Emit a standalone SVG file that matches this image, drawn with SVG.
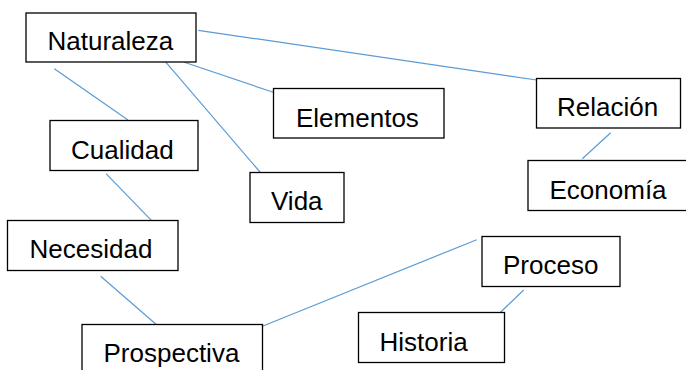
<svg xmlns="http://www.w3.org/2000/svg" width="686" height="370" viewBox="0 0 686 370">
<style>
.box{fill:#fff;stroke:#000;stroke-width:1.3}
.lbl{font-family:"Liberation Sans",Arial,sans-serif;font-size:26px;fill:#000}
.con{stroke:#5B9BD5;stroke-width:1.2;fill:none}
</style>
<rect width="686" height="370" fill="#fff"/>
<g id="connectors">
<line class="con" x1="198.3" y1="30.3" x2="536.7" y2="80"/>
<line class="con" x1="184.3" y1="62.3" x2="273.3" y2="92.3"/>
<line class="con" x1="164.3" y1="60.3" x2="261.7" y2="174"/>
<line class="con" x1="54.3" y1="68.7" x2="128" y2="120"/>
<line class="con" x1="106" y1="173.7" x2="153.3" y2="222.3"/>
<line class="con" x1="100.7" y1="276.3" x2="157.7" y2="325.7"/>
<line class="con" x1="263" y1="326" x2="476.7" y2="239.7"/>
<line class="con" x1="610.7" y1="132.7" x2="582.3" y2="158.7"/>
<line class="con" x1="523.7" y1="290" x2="496.3" y2="316.3"/>
</g>
<g id="naturaleza"><rect class="box" x="26" y="13" width="170" height="49"/><text class="lbl" x="47.5" y="50">Naturaleza</text></g>
<g id="elementos"><rect class="box" x="273.5" y="88.5" width="170.5" height="49.5"/><text class="lbl" x="296" y="126.5">Elementos</text></g>
<g id="relacion"><rect class="box" x="536.5" y="78.5" width="144" height="49.5"/><text class="lbl" x="557" y="115.5">Relación</text></g>
<g id="economia"><rect class="box" x="528" y="160.5" width="162" height="50"/><text class="lbl" x="549.5" y="199">Economía</text></g>
<g id="cualidad"><rect class="box" x="50" y="120.5" width="148" height="50"/><text class="lbl" x="71" y="158.5">Cualidad</text></g>
<g id="vida"><rect class="box" x="250" y="172.5" width="94" height="50"/><text class="lbl" x="271" y="210">Vida</text></g>
<g id="necesidad"><rect class="box" x="7.5" y="220.5" width="170.5" height="50"/><text class="lbl" x="29.5" y="257.5">Necesidad</text></g>
<g id="prospectiva"><rect class="box" x="82" y="324.5" width="180.5" height="60"/><text class="lbl" x="103.5" y="362">Prospectiva</text></g>
<g id="proceso"><rect class="box" x="482" y="236.5" width="138" height="50"/><text class="lbl" x="503" y="274">Proceso</text></g>
<g id="historia"><rect class="box" x="358.5" y="312.5" width="146" height="50"/><text class="lbl" x="379.5" y="350.5">Historia</text></g>
</svg>
